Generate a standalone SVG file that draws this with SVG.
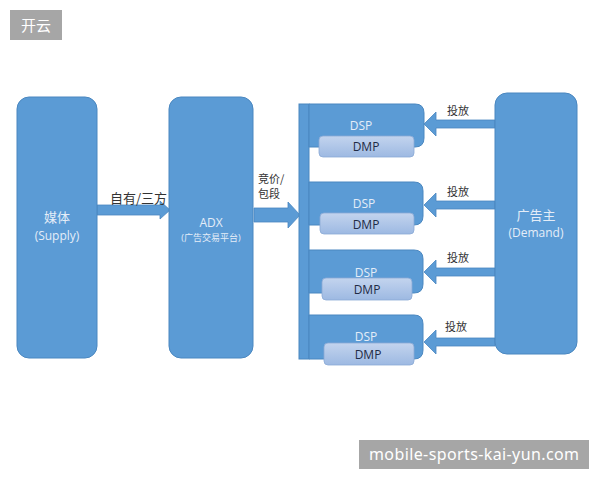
<svg xmlns="http://www.w3.org/2000/svg" width="600" height="480" viewBox="0 0 600 480">
<defs>
<linearGradient id="dmpg" x1="0" y1="0" x2="0" y2="1"><stop offset="0" stop-color="#c3d4ee"/><stop offset="1" stop-color="#9db9e2"/></linearGradient>
<style>
.box{fill:#5b9bd5;stroke:#4a87c0;stroke-width:1}
.dmp{fill:url(#dmpg);stroke:#8aa9d6;stroke-width:0.8}
.arr{fill:#5b9bd5;stroke:#4a87c0;stroke-width:0.8}
.lt{font-family:"Open Sans","Noto Sans CJK SC",sans-serif;fill:#e4edf8;text-anchor:middle}
.dk{font-family:"Open Sans","Noto Sans CJK SC",sans-serif;fill:#1f2b45;text-anchor:middle}
.lb{font-family:"Noto Sans CJK SC",sans-serif;fill:#333}
.wm{font-family:"Noto Sans","Noto Sans CJK SC",sans-serif;fill:#fff}
</style>
</defs>
<rect width="600" height="480" fill="#fff"/>
<g id="wm1"><rect x="10" y="10" width="52" height="30" fill="#a6a6a6"/><text class="wm" x="36" y="31" font-size="15" text-anchor="middle">开云</text></g>
<g id="wm2"><rect x="359" y="440" width="230" height="29" fill="#a6a6a6"/><text class="wm" x="474" y="460" font-size="16" text-anchor="middle" textLength="210">mobile-sports-kai-yun.com</text></g>

<g id="connectors">
<path class="arr" d="M97 205 H160 V201 L170 210 L160 219 V215 H97 Z"/>
<text class="lb" x="110" y="203" font-size="13">自有/三方</text>
<path class="arr" d="M254 208 H288 V202 L300 215 L288 228 V222 H254 Z"/>
<text class="lb" x="258" y="183" font-size="11">竞价/</text>
<text class="lb" x="258" y="198" font-size="11">包段</text>
<path class="arr" d="M495 120 H436 V112 L424 124 L436 136 V128 H495 Z"/>
<path class="arr" d="M495 201 H436 V193 L424 205 L436 217 V209 H495 Z"/>
<path class="arr" d="M495 268 H436 V260 L424 272 L436 284 V276 H495 Z"/>
<path class="arr" d="M495 338 H436 V330 L424 342 L436 354 V346 H495 Z"/>
<text class="lb" x="447" y="115" font-size="11">投放</text>
<text class="lb" x="447" y="196" font-size="11">投放</text>
<text class="lb" x="447" y="262" font-size="11">投放</text>
<text class="lb" x="445" y="331" font-size="11">投放</text>
</g>

<g id="supply"><rect class="box" x="17" y="97" width="80" height="261" rx="12"/>
<text class="lt" x="57" y="222" font-size="13">媒体</text><text class="lt" x="57" y="240" font-size="12">(Supply)</text></g>
<g id="adx"><rect class="box" x="169" y="97" width="84" height="261" rx="12"/>
<text class="lt" x="211" y="227" font-size="12">ADX</text><text class="lt" x="211" y="241" font-size="9">(广告交易平台)</text></g>
<g id="bar"><rect class="box" x="299" y="104" width="10" height="255"/></g>
<g id="dsp1"><path class="box" d="M309 104 H415 Q424 104 424 113 V138 Q424 147 415 147 H309 Z"/>
<rect class="dmp" x="319" y="136" width="95" height="21" rx="4"/>
<text class="lt" x="361" y="130" font-size="12">DSP</text><text class="dk" x="366" y="151" font-size="12">DMP</text></g>
<g id="dsp2"><path class="box" d="M309 182 H414 Q423 182 423 191 V216 Q423 225 414 225 H309 Z"/>
<rect class="dmp" x="320" y="213" width="94" height="21" rx="4"/>
<text class="lt" x="364" y="208" font-size="12">DSP</text><text class="dk" x="366" y="229" font-size="12">DMP</text></g>
<g id="dsp3"><path class="box" d="M309 250 H414 Q423 250 423 259 V284 Q423 293 414 293 H309 Z"/>
<rect class="dmp" x="322" y="278" width="90" height="22" rx="4"/>
<text class="lt" x="366" y="277" font-size="12">DSP</text><text class="dk" x="367" y="294" font-size="12">DMP</text></g>
<g id="dsp4"><path class="box" d="M309 315 H414 Q423 315 423 324 V350 Q423 359 414 359 H309 Z"/>
<rect class="dmp" x="324" y="343" width="90" height="22" rx="4"/>
<text class="lt" x="366" y="341" font-size="12">DSP</text><text class="dk" x="368" y="359" font-size="12">DMP</text></g>
<g id="demand"><rect class="box" x="495" y="93" width="82" height="261" rx="12"/>
<text class="lt" x="536" y="220" font-size="13">广告主</text><text class="lt" x="536" y="237" font-size="12">(Demand)</text></g>
</svg>
